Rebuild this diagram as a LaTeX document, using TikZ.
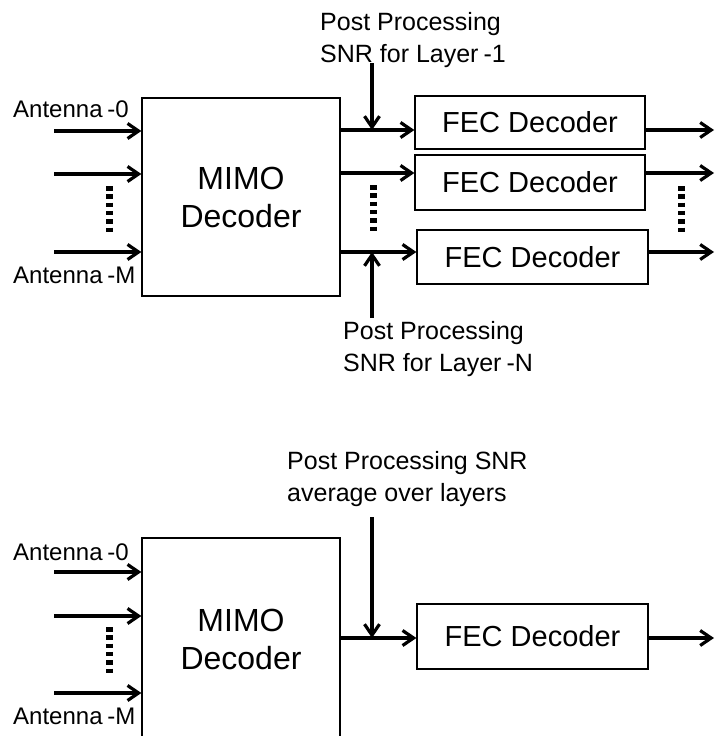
\documentclass[tikz,border=0pt]{standalone}
\usepackage{fontspec}
\setmainfont{Liberation Sans}
\usetikzlibrary{arrows.meta}
\begin{document}
\begin{tikzpicture}[x=1pt,y=-1pt,
  blk/.style={draw,line width=1.2pt,inner sep=0pt,align=center},
  mimo/.style={blk,minimum width=198pt,font=\fontsize{32}{38}\selectfont},
  fec/.style={blk,minimum width=230pt,font=\fontsize{29}{34}\selectfont},
  sig/.style={line width=3.2pt,-{Straight Barb[length=11pt,width=15pt]}},
  lbl/.style={inner sep=0pt,anchor=west,font=\fontsize{24}{28}\selectfont},
  note/.style={inner sep=0pt,anchor=north west,align=left,font=\fontsize{25}{32}\selectfont},
  dots/.style={line width=7pt,dash pattern=on 4.5pt off 3.8pt}]
\clip (0,0) rectangle (715,736);
\node[mimo,minimum height=198pt] (mimoA) at (241,197) {MIMO\\Decoder};
\node[mimo,minimum height=202pt] (mimoB) at (241,639) {MIMO\\Decoder};
\node[fec,minimum height=53pt] (fecA) at (530,122.5) {FEC Decoder};
\node[fec,minimum height=55pt] (fecB) at (530,182.5) {FEC Decoder};
\node[fec,minimum height=54pt,minimum width=231pt] (fecC) at (532.5,257) {FEC Decoder};
\node[fec,minimum height=65pt,minimum width=231pt] (fecD) at (532.5,636.5) {FEC Decoder};
\node[lbl] (antA0) at (13,109) {Antenna\hspace{.2em}-0};
\node[lbl] (antAM) at (13,275) {Antenna\hspace{.2em}-M};
\node[lbl] (antB0) at (13,552) {Antenna\hspace{.2em}-0};
\node[lbl] (antBM) at (13,716) {Antenna\hspace{.2em}-M};
\node[note] (snrA) at (320,12) {Post Processing\\SNR for Layer\hspace{.2em}-1};
\node[note] (snrN) at (343,321) {Post Processing\\SNR for Layer\hspace{.2em}-N};
\node[note] (snrB) at (287,451) {Post Processing SNR\\average over layers};
\coordinate (edge) at (714,0);
\foreach \n/\y in {1/131,2/174,3/252} {
  \coordinate (iA\n) at (54,\y);
  \draw[sig] (iA\n) -- (iA\n -| mimoA.west);
}
\foreach \n/\y in {1/572,2/616,3/693} {
  \coordinate (iB\n) at (54,\y);
  \draw[sig] (iB\n) -- (iB\n -| mimoB.west);
}
\foreach \n/\y/\f in {1/130/fecA,2/173/fecB,3/252/fecC,4/638/fecD} {
  \coordinate (o\n) at (mimoA.east |- 0,\y);
  \draw[sig] (o\n) -- (o\n -| \f.west);
  \draw[sig] (o\n -| \f.east) -- (o\n -| edge);
}
\coordinate (pA) at (372,63);
\coordinate (pN) at (372,318);
\coordinate (pB) at (372,517);
\draw[sig] (pA) -- (pA |- o1);
\draw[sig] (pN) -- (pN |- o3);
\draw[sig] (pB) -- (pB |- o4);
\draw[dots] (109,186) -- (109,235);
\draw[dots] (373,185) -- (373,234);
\draw[dots] (681,186) -- (681,235);
\draw[dots] (109,627) -- (109,676);
\end{tikzpicture}
\end{document}
